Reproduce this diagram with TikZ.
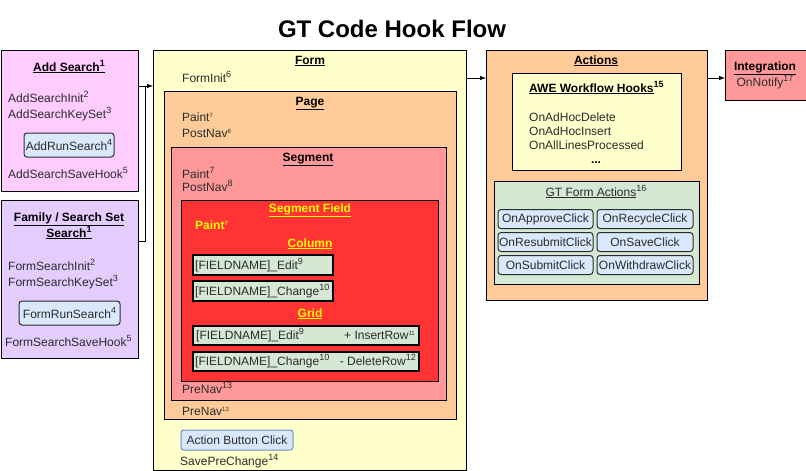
\documentclass[tikz,border=0pt]{standalone}
\usepackage{fontspec}
\setmainfont{Liberation Sans}
\usepackage{tikz}
\usetikzlibrary{arrows,positioning}
\definecolor{addpink}{HTML}{FFCCFF}
\definecolor{famlilac}{HTML}{E5CCFF}
\definecolor{formyellow}{HTML}{FFFFCC}
\definecolor{pagepeach}{HTML}{FFCC99}
\definecolor{segpink}{HTML}{FF9999}
\definecolor{fieldred}{HTML}{FF3333}
\definecolor{fieldyellow}{HTML}{FFFF00}
\definecolor{boxgreen}{HTML}{D5E8D4}
\definecolor{btnblue}{HTML}{DAE8FC}
\definecolor{btnedge}{HTML}{6C8EBF}
\definecolor{txtgrey}{HTML}{2B2B2B}
\newcommand{\hooknum}[1]{\raisebox{4.5pt}{\fontsize{9}{9}\selectfont #1}}
\newcommand{\tinynum}[1]{\raisebox{3.5pt}{\fontsize{6}{6}\selectfont #1}}

\begin{document}
\begin{tikzpicture}[x=1pt,y=-1pt,
    every node/.style={font=\fontsize{12}{14}\selectfont, text=txtgrey},
    frame/.style={draw=black, line width=1pt, anchor=north west, inner sep=0pt},
    heading/.style={font=\fontsize{12}{14}\selectfont\bfseries, anchor=base, inner sep=0pt, text=black},
    hook/.style={anchor=base west, inner sep=0pt},
    btn/.style={draw=txtgrey, fill=btnblue, rounded corners=3pt, line width=1pt, inner sep=0pt, minimum height=19pt},
    fieldbox/.style={frame, fill=boxgreen, line width=1.5pt, minimum height=20pt}]
  \useasboundingbox (0,0) rectangle (806,471);
  \node[anchor=base, font=\fontsize{24}{28}\selectfont\bfseries, text=black] (title) at (392,37) {GT Code Hook Flow};

    % search boxes on the left
    \node[frame, fill=addpink, minimum width=137pt, minimum height=141pt] (addsearch) at (0.5,49.5) {};
    \node[heading] (addtitle) at (69,71) {\underline{Add Search\hooknum{1}}};
    \node[hook] (addinit) at (8,102) {AddSearchInit\hooknum{2}};
    \node[hook] (addkey) at (8,118) {AddSearchKeySet\hooknum{3}};
    \node[btn, minimum width=90pt, minimum height=24pt] (addrun) at (69,145) {AddRunSearch\hooknum{4}};
    \node[hook] (addsave) at (8,178) {AddSearchSaveHook\hooknum{5}};

    \node[frame, fill=famlilac, minimum width=137pt, minimum height=158pt] (famsearch) at (0.5,200) {};
    \node[heading] (famtitle) at (69,221) {\underline{Family / Search Set}};
    \node[heading] (famtitleb) at (69,237) {\underline{Search\hooknum{1}}};
    \node[hook] (faminit) at (8,270) {FormSearchInit\hooknum{2}};
    \node[hook] (famkey) at (8,286) {FormSearchKeySet\hooknum{3}};
    \node[btn, minimum width=101pt, minimum height=24pt] (famrun) at (69.5,313) {FormRunSearch\hooknum{4}};
    \node[hook] (famsave) at (5,346) {FormSearchSaveHook\hooknum{5}};

    % form and its nested levels
    \node[frame, fill=formyellow, minimum width=313pt, minimum height=420pt] (form) at (153,50) {};
    \node[heading] (formtitle) at (310,64) {\underline{Form}};
    \node[hook] (forminit) at (182,82) {FormInit\hooknum{6}};

    \node[frame, fill=pagepeach, minimum width=292pt, minimum height=328pt] (page) at (164,91) {};
    \node[heading] (pagetitle) at (310,105) {\underline{Page}};
    \node[hook] (pagepaint) at (182,121) {Paint\tinynum{7}};
    \node[hook] (pagepost) at (182,137) {PostNav\tinynum{8}};
    \node[hook] (pagepre) at (182,415) {PreNav\tinynum{13}};

    \node[frame, fill=segpink, minimum width=275pt, minimum height=253pt] (segment) at (171,147) {};
    \node[heading] (segtitle) at (308,161) {\underline{Segment}};
    \node[hook] (segpaint) at (182,178) {Paint\hooknum{7}};
    \node[hook] (segpost) at (182,191) {PostNav\hooknum{8}};
    \node[hook] (segpre) at (182,393) {PreNav\hooknum{13}};

    \node[frame, fill=fieldred, minimum width=257pt, minimum height=181pt] (segfield) at (181,200) {};
    \node[heading, text=fieldyellow] (fieldtitle) at (310,212) {\underline{Segment Field}};
    \node[hook, font=\fontsize{12}{14}\selectfont\bfseries, text=fieldyellow] (fieldpaint) at (195,229) {Paint\tinynum{7}};
    \node[heading, text=fieldyellow] (coltitle) at (310,247) {\underline{Column}};
    \node[fieldbox, minimum width=140pt] (coledit) at (192,254) {};
    \node[hook] at (195,269) {[FIELDNAME]\_Edit\hooknum{9}};
    \node[fieldbox, minimum width=140pt] (colchange) at (192,280) {};
    \node[hook] at (195,295) {[FIELDNAME]\_Change\hooknum{10}};
    \node[heading, text=fieldyellow] (gridtitle) at (310,317) {\underline{Grid}};
    \node[fieldbox, minimum width=226pt, minimum height=19pt] (gridedit) at (192,325) {};
    \node[hook] at (196,339) {[FIELDNAME]\_Edit\hooknum{9}};
    \node[anchor=base east, inner sep=0pt] at (415,339) {+ InsertRow\tinynum{11}};
    \node[fieldbox, minimum width=226pt, minimum height=19pt] (gridchange) at (192,351) {};
    \node[hook] at (195,365) {[FIELDNAME]\_Change\hooknum{10}};
    \node[anchor=base east, inner sep=0pt] at (416,365) {- DeleteRow\hooknum{12}};

    \node[btn, draw=btnedge, minimum width=112pt, minimum height=20pt] (actionbtn) at (237,440) {Action Button Click};
    \node[hook] (saveprechange) at (180,465) {SavePreChange\hooknum{14}};

    % actions
    \node[frame, fill=pagepeach, minimum width=221pt, minimum height=250pt] (actions) at (486,50) {};
    \node[heading] (actionstitle) at (596,64) {\underline{Actions}};
    \node[frame, fill=formyellow, minimum width=169pt, minimum height=97pt] (awe) at (512,73) {};
    \node[heading, anchor=base west] (awetitle) at (529,92) {\underline{AWE Workflow Hooks}\hooknum{15}};
    \node[hook] (adhocdelete) at (529,121) {OnAdHocDelete};
    \node[hook] (adhocinsert) at (529,135) {OnAdHocInsert};
    \node[hook] (alllines) at (529,149) {OnAllLinesProcessed};
    \node[heading] (awemore) at (596,163) {...};

    \node[frame, fill=boxgreen, minimum width=205pt, minimum height=103pt] (gtactions) at (494,181) {};
    \node[anchor=base, inner sep=0pt] (gttitle) at (596,196) {\underline{GT Form Actions}\hooknum{16}};
    \node[btn, minimum width=95pt] (approve) at (545.5,219) {OnApproveClick};
    \node[btn, minimum width=96pt] (recycle) at (645,219) {OnRecycleClick};
    \node[btn, minimum width=95pt] (resubmit) at (545.5,242) {OnResubmitClick};
    \node[btn, minimum width=96pt] (saveclick) at (645,242) {OnSaveClick};
    \node[btn, minimum width=95pt] (submit) at (545.5,265) {OnSubmitClick};
    \node[btn, minimum width=96pt] (withdraw) at (645,265) {OnWithdrawClick};

    \node[frame, fill=segpink, minimum width=80.5pt, minimum height=50pt] (integration) at (725,50) {};
    \node[heading] (inttitle) at (765,70) {\underline{Integration}};
    \node[anchor=base, inner sep=0pt] (onnotify) at (765,86) {OnNotify\hooknum{17}};

    % connectors
    \coordinate (join) at (145,86);
    \coordinate (famout) at (137.5,241);
    \coordinate (flow) at (0,78);
    \draw[-latex, line width=1pt] (addsearch.east |- join) -- (form.west |- join);
    \draw[line width=1pt] (famout) -| (join);
    \draw[-latex, line width=1pt] (form.east |- flow) -- (actions.west |- flow);
    \draw[-latex, line width=1pt] (actions.east |- flow) -- (integration.west |- flow);
\end{tikzpicture}
\end{document}
